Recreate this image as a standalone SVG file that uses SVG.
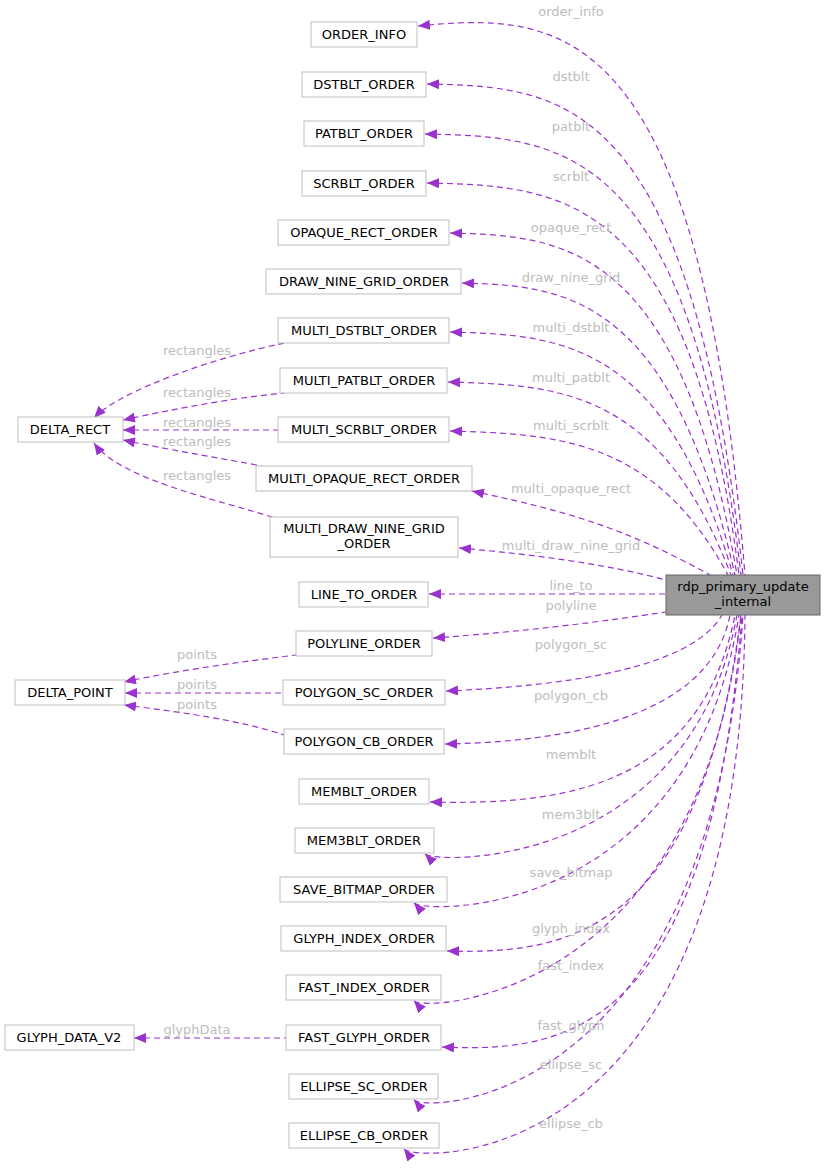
<svg xmlns="http://www.w3.org/2000/svg" width="825" height="1174" viewBox="0 0 825 1174">
<defs>
<marker id="a" markerWidth="12" markerHeight="10" refX="12" refY="5" orient="auto-start-reverse" markerUnits="userSpaceOnUse"><path d="M0,0 L12,5 L0,10 Z" fill="#9a32cd"/></marker>
<style>
.n rect{fill:#fff;stroke:#bfbfbf;stroke-width:1}
text{font-family:"DejaVu Sans",sans-serif;font-size:13px;text-anchor:middle}
.l{fill:#bdbdbd}
#edges path{fill:none;stroke:#9a32cd;stroke-width:1.2;stroke-dasharray:6,4;marker-start:url(#a)}
</style>
</defs>
<rect width="825" height="1174" fill="#fff"/>
<g id="edges">
<path d="M418,26 C560,12 700,15 745,575"/>
<path d="M427,84 C560,87 690,90 743,575"/>
<path d="M425,134 C560,137 690,140 741,575"/>
<path d="M427,183 C560,186 690,190 739,575"/>
<path d="M450,233 C560,236 680,240 737,575"/>
<path d="M462,283 C560,286 670,290 735,575"/>
<path d="M450,332 C560,335 665,340 733,575"/>
<path d="M448,382 C560,385 660,390 731,575"/>
<path d="M450,431 C560,434 655,440 728,575"/>
<path d="M472,491 C560,510 620,525 710,575"/>
<path d="M459,548 C540,555 610,565 666,580"/>
<path d="M429,594 L666,594"/>
<path d="M433,638 C520,632 600,622 666,612"/>
<path d="M446,691 C560,686 690,670 722,615"/>
<path d="M445,744 C560,742 710,720 730,615"/>
<path d="M430,802 C560,805 700,790 735,615"/>
<path d="M425,854 C435,864 690,870 737,615"/>
<path d="M414,903 C424,914 690,920 739,615"/>
<path d="M447,951 C560,954 700,940 741,615"/>
<path d="M414,1001 C424,1012 700,1000 741,615"/>
<path d="M442,1047 C560,1052 710,1040 742,615"/>
<path d="M414,1100 C424,1112 710,1110 743,615"/>
<path d="M404,1149 C414,1162 740,1180 745,615"/>
<path d="M94,418 C120,390 220,356 285,343"/>
<path d="M123,420 C170,410 230,398 285,393"/>
<path d="M123,430 L278,430"/>
<path d="M123,440 C170,450 230,460 262,466"/>
<path d="M94,443 C120,480 220,500 275,518"/>
<path d="M124,682 C180,670 240,662 296,655"/>
<path d="M125,693 L283,693"/>
<path d="M124,705 C180,712 240,720 284,735"/>
<path d="M134,1038 L286,1038"/>
</g>
<g class="l">
<text x="571" y="16">order_info</text>
<text x="571" y="81">dstblt</text>
<text x="571" y="131">patblt</text>
<text x="571" y="181">scrblt</text>
<text x="571" y="232">opaque_rect</text>
<text x="571" y="282">draw_nine_grid</text>
<text x="571" y="332">multi_dstblt</text>
<text x="571" y="382">multi_patblt</text>
<text x="571" y="430">multi_scrblt</text>
<text x="571" y="493">multi_opaque_rect</text>
<text x="571" y="550">multi_draw_nine_grid</text>
<text x="571" y="590">line_to</text>
<text x="571" y="610">polyline</text>
<text x="571" y="649">polygon_sc</text>
<text x="571" y="700">polygon_cb</text>
<text x="571" y="759">memblt</text>
<text x="571" y="819">mem3blt</text>
<text x="571" y="877">save_bitmap</text>
<text x="571" y="933">glyph_index</text>
<text x="571" y="970">fast_index</text>
<text x="571" y="1030">fast_glyph</text>
<text x="571" y="1069">ellipse_sc</text>
<text x="571" y="1128">ellipse_cb</text>
<text x="197" y="355">rectangles</text>
<text x="197" y="397">rectangles</text>
<text x="197" y="427">rectangles</text>
<text x="197" y="446">rectangles</text>
<text x="197" y="480">rectangles</text>
<text x="197" y="659">points</text>
<text x="197" y="689">points</text>
<text x="197" y="709">points</text>
<text x="197" y="1034">glyphData</text>
</g>
<g id="rdp"><rect x="666" y="575" width="154" height="40" fill="#999" stroke="#666"/><text x="743" y="591">rdp_primary_update</text><text x="743" y="606">_internal</text></g>
<g id="n1" class="n"><rect x="311" y="22" width="106" height="25"/><text x="364" y="39">ORDER_INFO</text></g>
<g id="n2" class="n"><rect x="302" y="72" width="124" height="25"/><text x="364" y="89">DSTBLT_ORDER</text></g>
<g id="n3" class="n"><rect x="304" y="121" width="120" height="25"/><text x="364" y="138">PATBLT_ORDER</text></g>
<g id="n4" class="n"><rect x="302" y="171" width="124" height="25"/><text x="364" y="188">SCRBLT_ORDER</text></g>
<g id="n5" class="n"><rect x="278" y="220" width="171" height="25"/><text x="364" y="237">OPAQUE_RECT_ORDER</text></g>
<g id="n6" class="n"><rect x="266" y="269" width="195" height="25"/><text x="364" y="286">DRAW_NINE_GRID_ORDER</text></g>
<g id="n7" class="n"><rect x="278" y="318" width="171" height="25"/><text x="364" y="335">MULTI_DSTBLT_ORDER</text></g>
<g id="n8" class="n"><rect x="280" y="368" width="167" height="25"/><text x="364" y="385">MULTI_PATBLT_ORDER</text></g>
<g id="n9" class="n"><rect x="278" y="417" width="171" height="25"/><text x="364" y="434">MULTI_SCRBLT_ORDER</text></g>
<g id="n10" class="n"><rect x="256" y="466" width="216" height="25"/><text x="364" y="483">MULTI_OPAQUE_RECT_ORDER</text></g>
<g id="n11" class="n"><rect x="270" y="517" width="188" height="40"/><text x="364" y="533">MULTI_DRAW_NINE_GRID</text><text x="364" y="548">_ORDER</text></g>
<g id="n12" class="n"><rect x="299" y="582" width="129" height="25"/><text x="364" y="599">LINE_TO_ORDER</text></g>
<g id="n13" class="n"><rect x="296" y="631" width="136" height="25"/><text x="364" y="648">POLYLINE_ORDER</text></g>
<g id="n14" class="n"><rect x="283" y="680" width="162" height="25"/><text x="364" y="697">POLYGON_SC_ORDER</text></g>
<g id="n15" class="n"><rect x="284" y="729" width="160" height="25"/><text x="364" y="746">POLYGON_CB_ORDER</text></g>
<g id="n16" class="n"><rect x="299" y="779" width="130" height="25"/><text x="364" y="796">MEMBLT_ORDER</text></g>
<g id="n17" class="n"><rect x="295" y="828" width="139" height="25"/><text x="364" y="845">MEM3BLT_ORDER</text></g>
<g id="n18" class="n"><rect x="280" y="877" width="167" height="25"/><text x="364" y="894">SAVE_BITMAP_ORDER</text></g>
<g id="n19" class="n"><rect x="281" y="926" width="165" height="25"/><text x="364" y="943">GLYPH_INDEX_ORDER</text></g>
<g id="n20" class="n"><rect x="286" y="975" width="155" height="25"/><text x="364" y="992">FAST_INDEX_ORDER</text></g>
<g id="n21" class="n"><rect x="286" y="1025" width="155" height="25"/><text x="364" y="1042">FAST_GLYPH_ORDER</text></g>
<g id="n22" class="n"><rect x="289" y="1074" width="149" height="25"/><text x="364" y="1091">ELLIPSE_SC_ORDER</text></g>
<g id="n23" class="n"><rect x="289" y="1123" width="150" height="25"/><text x="364" y="1140">ELLIPSE_CB_ORDER</text></g>
<g id="dr" class="n"><rect x="18" y="417" width="105" height="25"/><text x="70" y="434">DELTA_RECT</text></g>
<g id="dp" class="n"><rect x="15" y="680" width="110" height="25"/><text x="70" y="697">DELTA_POINT</text></g>
<g id="gd" class="n"><rect x="5" y="1025" width="129" height="25"/><text x="69" y="1042">GLYPH_DATA_V2</text></g>
</svg>
